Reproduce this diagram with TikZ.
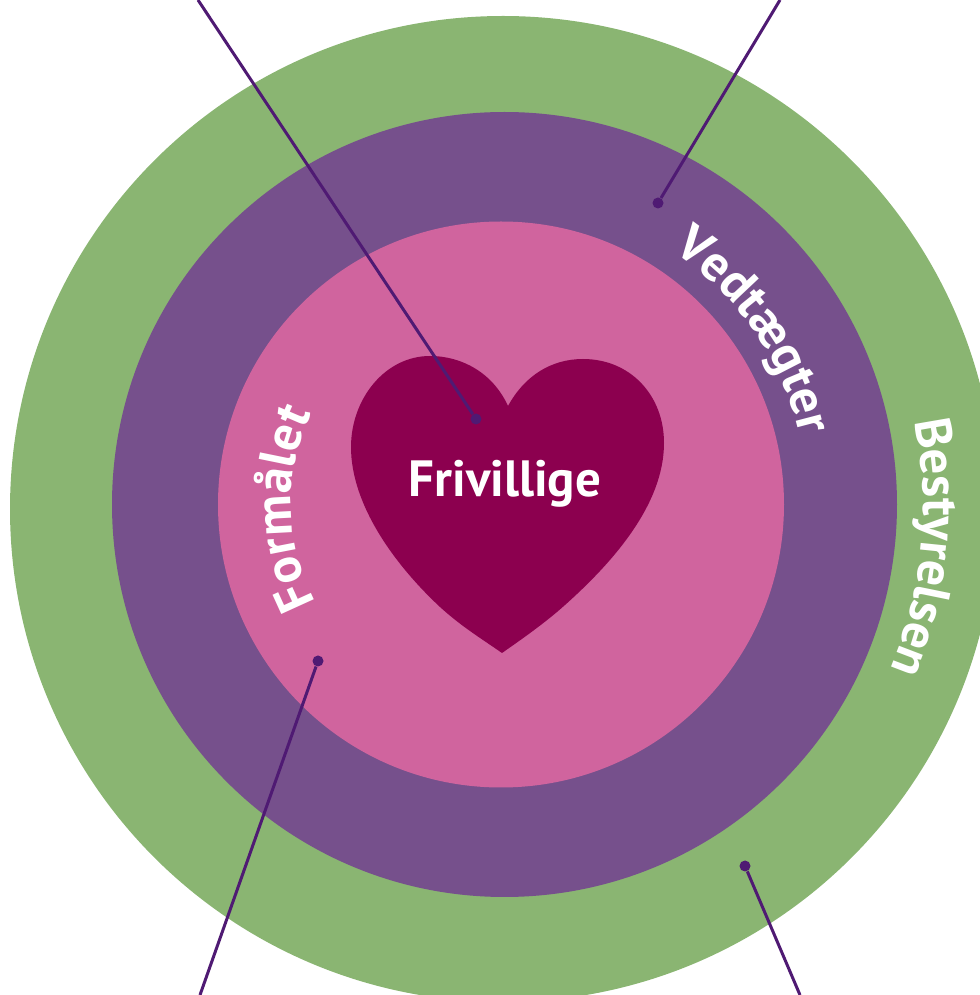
\documentclass[tikz,border=0pt]{standalone}
\usepackage{fontspec}
\setmainfont{PT Sans}
\usepackage{tikz}
\usetikzlibrary{decorations.text}
\definecolor{ringgreen}{HTML}{8AB572}
\definecolor{ringpurple}{HTML}{76508C}
\definecolor{ringpink}{HTML}{D0649E}
\definecolor{heartred}{HTML}{8C004F}
\definecolor{linepurple}{HTML}{4F1A73}
\newcommand{\labelfont}{\fontsize{29}{29}\selectfont\bfseries\color{white}}
\tikzset{
  dot/.style={circle, fill=linepurple, inner sep=0pt, minimum size=2.2mm},
  pointer/.style={draw=linepurple, line width=0.6mm},
  arclabel/.style={decorate, decoration={text along path, text align=left, text color=white}}
}

\begin{document}
\begin{tikzpicture}[x=0.2mm, y=0.2mm]
\useasboundingbox (0,0) rectangle (980,995);

\fill[ringgreen] (503,486) circle (493);
\fill[ringpurple] (504.5,490.5) circle (392.5);
\fill[ringpink] (501,490.5) circle (283);

% heart
\fill[heartred] (508,589) .. controls (493,622) and (462,639) .. (430,639)
  .. controls (385,639) and (351,596) .. (351,548)
  .. controls (351,490) and (395,430) .. (440,388)
  .. controls (462,368) and (482,356) .. (502,342)
  .. controls (522,356) and (545,372) .. (565,390)
  .. controls (612,432) and (664,490) .. (664,552)
  .. controls (664,600) and (630,636) .. (583,636)
  .. controls (552,636) and (525,620) .. (508,589) -- cycle;

\node[font=\labelfont, inner sep=0pt] (frivillige) at (505,511) {Frivillige};

\path[arclabel, decoration={text={|\labelfont|Bestyrelsen}}]
  (503,488) ++(11.8:420) arc[start angle=11.8, end angle=-60, radius=420];
\path[arclabel, decoration={text={|\labelfont|Vedtægter}}]
  (504,491) ++(56.5:304) arc[start angle=56.5, end angle=-30, radius=304];
\path[arclabel, decoration={text={|\labelfont|Formålet}}]
  (501,491) ++(208:210) arc[start angle=208, end angle=100, radius=210];

\node[dot] (dot1) at (476,576) {};
\node[dot] (dot2) at (658,792) {};
\node[dot] (dot3) at (318,334) {};
\node[dot] (dot4) at (745,129) {};
\coordinate (end1) at (198,995);
\coordinate (end2) at (780,995);
\coordinate (end3) at (200,0);
\coordinate (end4) at (800,0);
\draw[pointer] (end1)--(dot1);
\draw[pointer] (end2)--(dot2);
\draw[pointer] (end3)--(dot3);
\draw[pointer] (end4)--(dot4);

\end{tikzpicture}
\end{document}
